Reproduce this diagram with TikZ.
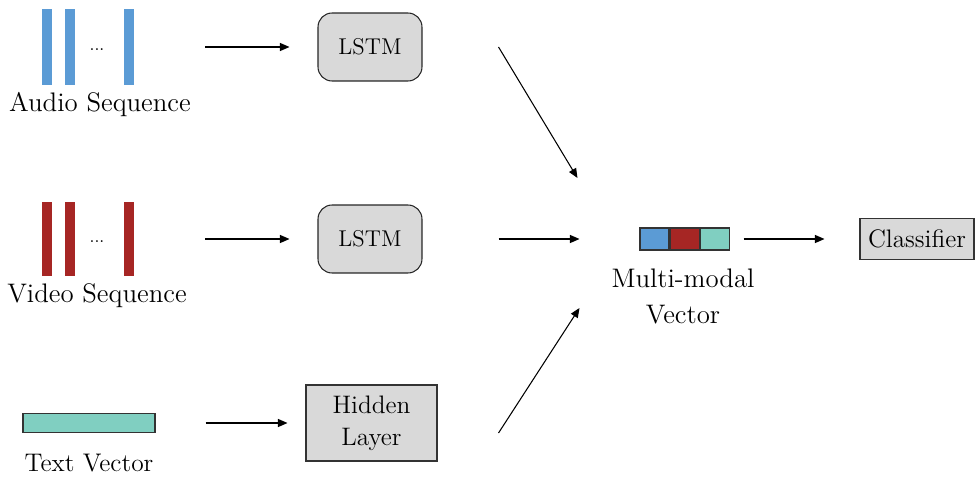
\documentclass[tikz,border=0pt]{standalone}
\usetikzlibrary{positioning,arrows.meta,calc}
\definecolor{audioblue}{RGB}{91,155,213}
\definecolor{videored}{RGB}{166,38,36}
\definecolor{textteal}{RGB}{128,207,193}
\definecolor{boxgray}{RGB}{217,217,217}
\tikzset{
  seqbar/.style={inner sep=0pt, minimum width=0.2cm},
  abar/.style={seqbar, fill=audioblue, minimum height=1.54cm},
  vbar/.style={seqbar, fill=videored, minimum height=1.5cm},
  dots/.style={font=\fontsize{10}{12}\selectfont, inner sep=0pt},
  cell/.style={draw=black!80, line width=0.6pt, inner sep=0pt,
               minimum width=0.58cm, minimum height=0.44cm},
  lstm/.style={draw=black!85, line width=0.6pt, fill=boxgray, rounded corners=8pt,
               minimum width=2.08cm, minimum height=1.36cm,
               font=\fontsize{13}{16}\selectfont},
  layer/.style={draw=black!80, line width=0.6pt, fill=boxgray, align=center,
                font=\fontsize{14.4}{18}\selectfont},
  lbl/.style={font=\fontsize{14.4}{18}\selectfont, inner sep=0pt, align=center,
              scale=1.06, transform shape},
  flow/.style={-{Triangle[length=1.9mm,width=1.6mm]}, line width=0.6pt}
}
\begin{document}
\begin{tikzpicture}[x=0.02cm, y=-0.02cm]
\useasboundingbox (0,0) rectangle (978,477);
% audio sequence
\node[abar] (a1) at (47,47) {};
\node[abar] (a2) at (70,47) {};
\node[abar] (a3) at (129,47) {};
\node[dots] (ad) at (97,50) {...};
\node[lbl] (alb) at (100,105) {Audio Sequence};
% video sequence
\node[vbar] (v1) at (47,239) {};
\node[vbar] (v2) at (70,239) {};
\node[vbar] (v3) at (129,239) {};
\node[dots] (vd) at (97,242) {...};
\node[lbl] (vlb) at (97,296) {Video Sequence};
% text vector
\node[cell, fill=textteal, minimum width=2.64cm, minimum height=0.38cm] (tv) at (89,423) {};
\node[lbl, scale=0.95] (tlb) at (89,463) {Text Vector};
% encoders
\node[lstm] (l1) at (370,47) {LSTM};
\node[lstm] (l2) at (370,239) {LSTM};
\node[layer, minimum width=2.62cm, minimum height=1.52cm] (hl) at (371.5,423) {Hidden\\Layer};
% fused vector
\node[cell, fill=audioblue] (m1) at (654.5,239) {};
\node[cell, fill=videored, right=0pt of m1] (m2) {};
\node[cell, fill=textteal, right=0pt of m2] (m3) {};
\node[lbl] (mlb) at (683,296.5) {Multi-modal\\[1pt]Vector};
\node[layer, minimum width=2.28cm, minimum height=0.82cm] (cls) at (917,239) {Classifier};
% connectors
\draw[flow, shorten <=1.42cm, shorten >=0.56cm] (a3.east) -- (l1.west);
\draw[flow, shorten <=1.42cm, shorten >=0.56cm] (v3.east) -- (l2.west);
\draw[flow, shorten <=1cm, shorten >=0.36cm] (tv.east) -- (hl.west);
\coordinate (d1) at ($(l1.east)+(76,0)$);
\coordinate (e1) at ($(m1.west)+(-62,-61)$);
\coordinate (d3) at ($(hl.east)+(61,10)$);
\coordinate (e3) at ($(m1.west)+(-60,69)$);
\draw[flow] (d1) -- (e1);
\draw[flow] (d3) -- (e3);
\draw[flow, shorten <=1.52cm, shorten >=1.2cm] (l2.east) -- (m1.west);
\draw[flow, shorten <=0.28cm, shorten >=0.7cm] (m3.east) -- (cls.west);
\end{tikzpicture}
\end{document}
